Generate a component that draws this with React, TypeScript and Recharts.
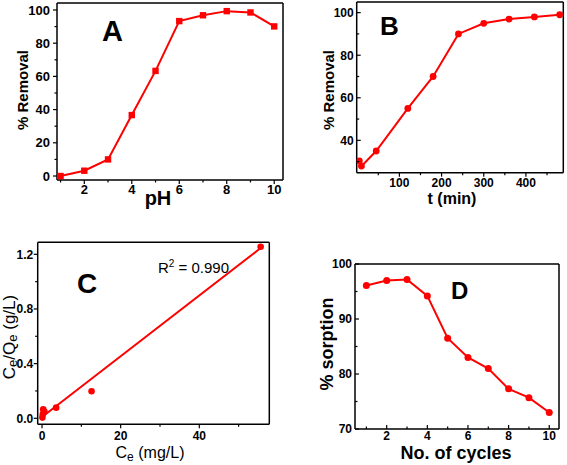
import React from "react";
import { LineChart, ComposedChart, Line, Scatter, XAxis, YAxis } from "recharts";

// panel A: removal vs pH
const PH = [1, 2, 3, 4, 5, 6, 7, 8, 9, 10];
const PH_REMOVAL = [0, 3.2, 10, 36.7, 63.3, 93.3, 96.8, 99.3, 98.5, 90.1];

// panel B: removal vs time
const TIME_MIN = [5, 10, 45, 120, 180, 240, 300, 360, 420, 480];
const TIME_REMOVAL = [30.3, 27.9, 35, 55, 70, 90, 95, 97, 98, 99];

// panel C: isotherm points + linear fit
const CE = [0.1, 0.2, 0.3, 0.6, 3.6, 12.6, 55.6];
const CE_QE = [0.005, 0.03, 0.065, 0.05, 0.078, 0.198, 1.255];
const FIT_CE = [0, 55.7];
const FIT_CE_QE = [0.01, 1.248];

// panel D: reuse cycles
const CYCLES = [1, 2, 3, 4, 5, 6, 7, 8, 9, 10];
const SORPTION = [96.1, 97.0, 97.2, 94.2, 86.5, 83.0, 81.0, 77.3, 75.7, 73.0];

const A_X_MAJOR = [2, 4, 6, 8, 10];
const A_X_MINOR = [1, 3, 5, 7, 9];
const A_Y_MAJOR = [0, 20, 40, 60, 80, 100];
const A_Y_MINOR = [10, 30, 50, 70, 90];
const B_X_MAJOR = [100, 200, 300, 400];
const B_X_MINOR = [50, 150, 250, 350, 450];
const B_Y_MAJOR = [40, 60, 80, 100];
const B_Y_MINOR = [30, 50, 70, 90];
const C_X_MAJOR = [0, 20, 40];
const C_X_MINOR = [10, 30, 50];
const C_Y_MAJOR = [0, 0.4, 0.8, 1.2];
const C_Y_MINOR = [0.2, 0.6, 1.0];
const D_X_MAJOR = [2, 4, 6, 8, 10];
const D_X_MINOR = [1, 3, 5, 7, 9];
const D_Y_MAJOR = [70, 80, 90, 100];
const D_Y_MINOR = [75, 85, 95];

const zip = (xs: number[], ys: number[]) => xs.map((x, i) => ({ x, y: ys[i] }));

const RED = "#ff0000";
const FONT = "'Liberation Sans', Arial, sans-serif";
const FRAME = { stroke: "#000", strokeWidth: 1.5 };
const AXIS_W = 30; // space reserved for left axis
const AXIS_H = 24; // space reserved for bottom axis

const fmtInt = (v: number) => String(v);
const fmtOne = (v: number) => v.toFixed(1);

type TickOpts = { gap: number; size: number; inward?: boolean };

const bottomTick = (majors: number[], fmt: (v: number) => string, o: TickOpts) => (props: any) => {
  const { x, y, payload } = props;
  const major = majors.includes(payload.value);
  const len = (major ? 4 : 2.5) * (o.inward ? -1 : 1);
  return (
    <g>
      <line x1={x} x2={x} y1={y} y2={y + len} stroke="#000" strokeWidth={1.2} />
      {major && (
        <text x={x} y={y + o.gap} dy="0.72em" textAnchor="middle" fontSize={o.size} fontWeight="bold" fontFamily={FONT} fill="#000">
          {fmt(payload.value)}
        </text>
      )}
    </g>
  );
};

const leftTick = (majors: number[], fmt: (v: number) => string, o: TickOpts) => (props: any) => {
  const { x, y, payload } = props;
  const major = majors.includes(payload.value);
  const len = (major ? 4 : 2.5) * (o.inward ? -1 : 1);
  return (
    <g>
      <line x1={x} x2={x - len} y1={y} y2={y} stroke="#000" strokeWidth={1.2} />
      {major && (
        <text x={x - o.gap} y={y} dy="0.36em" textAnchor="end" fontSize={o.size} fontWeight="bold" fontFamily={FONT} fill="#000">
          {fmt(payload.value)}
        </text>
      )}
    </g>
  );
};

const SquareDot = (props: any) => {
  const { cx, cy, index } = props;
  return <rect key={index} x={cx - 3.2} y={cy - 3.2} width={6.4} height={6.4} fill={RED} />;
};

const axes = (
  xd: number[],
  yd: number[],
  xt: number[][],
  yt: number[][],
  yfmt: (v: number) => string,
  xo: TickOpts,
  yo: TickOpts
) => [
  <XAxis key="x" dataKey="x" type="number" domain={xd} allowDataOverflow ticks={[...xt[1], ...xt[0]]} height={AXIS_H} tickSize={0} tickMargin={0} tickLine={false} axisLine={FRAME} tick={bottomTick(xt[0], fmtInt, xo)} interval={0} />,
  <YAxis key="y" dataKey="y" type="number" domain={yd} allowDataOverflow ticks={[...yt[1], ...yt[0]]} width={AXIS_W} tickSize={0} tickMargin={0} tickLine={false} axisLine={FRAME} tick={leftTick(yt[0], yfmt, yo)} interval={0} />,
  <XAxis key="top" xAxisId="top" orientation="top" type="number" domain={xd} allowDataOverflow height={1} tick={false} tickLine={false} axisLine={FRAME} />,
  <YAxis key="right" yAxisId="right" orientation="right" type="number" domain={yd} allowDataOverflow width={1} tick={false} tickLine={false} axisLine={FRAME} />,
];

// margins derived from the plot box inside each panel (left, top, right, bottom edges)
const marginFor = (w: number, h: number, l: number, t: number, r: number, b: number) => ({
  left: l - AXIS_W,
  top: t - 1,
  right: w - r - 1,
  bottom: h - b - AXIS_H,
});

const PanelA = () => {
  const xd = [0.85, 10.37];
  const yd = [-2.4, 104.2];
  return (
    <LineChart width={290} height={215} data={zip(PH, PH_REMOVAL)} margin={marginFor(290, 215, 57, 3, 283, 180)}>
      {axes(xd, yd, [A_X_MAJOR, A_X_MINOR], [A_Y_MAJOR, A_Y_MINOR], fmtInt, { gap: 5, size: 13 }, { gap: 7, size: 13 })}
      <Line dataKey="y" stroke={RED} strokeWidth={2} dot={SquareDot} isAnimationActive={false} />
    </LineChart>
  );
};

const PanelB = () => {
  const xd = [-1.2, 488.6];
  const yd = [24.8, 105];
  return (
    <LineChart width={277} height={215} data={zip(TIME_MIN, TIME_REMOVAL)} margin={marginFor(277, 215, 66.7, 2, 273.3, 172.7)}>
      {axes(xd, yd, [B_X_MAJOR, B_X_MINOR], [B_Y_MAJOR, B_Y_MINOR], fmtInt, { gap: 6, size: 12 }, { gap: 3, size: 12, inward: true })}
      <Line dataKey="y" stroke={RED} strokeWidth={2} dot={{ r: 3.4, fill: RED, stroke: RED, strokeWidth: 0 }} isAnimationActive={false} />
    </LineChart>
  );
};

const PanelC = () => {
  const xd = [-1.1, 57.8];
  const yd = [-0.044, 1.288];
  return (
    <ComposedChart width={290} height={235} margin={marginFor(290, 235, 37.7, 12.3, 269.3, 194.3)}>
      {axes(xd, yd, [C_X_MAJOR, C_X_MINOR], [C_Y_MAJOR, C_Y_MINOR], fmtOne, { gap: 7, size: 12 }, { gap: 4.5, size: 12 })}
      <Line data={zip(FIT_CE, FIT_CE_QE)} dataKey="y" stroke={RED} strokeWidth={2} dot={false} isAnimationActive={false} />
      <Scatter data={zip(CE, CE_QE)} dataKey="y" fill={RED} shape={(p: any) => <circle cx={p.cx} cy={p.cy} r={3.3} fill={RED} />} isAnimationActive={false} />
    </ComposedChart>
  );
};

const PanelD = () => {
  const xd = [0.44, 10.48];
  const yd = [70, 100];
  return (
    <LineChart width={277} height={235} data={zip(CYCLES, SORPTION)} margin={marginFor(277, 235, 65, 34, 269, 199)}>
      {axes(xd, yd, [D_X_MAJOR, D_X_MINOR], [D_Y_MAJOR, D_Y_MINOR], fmtInt, { gap: 2, size: 12, inward: true }, { gap: 3, size: 12, inward: true })}
      <Line dataKey="y" stroke={RED} strokeWidth={2} dot={{ r: 3.5, fill: RED, stroke: RED, strokeWidth: 0 }} isAnimationActive={false} />
    </LineChart>
  );
};

const Titles = () => (
  <svg width={567} height={465} style={{ position: "absolute", left: 0, top: 0, pointerEvents: "none" }} fontFamily={FONT} fill="#000">
    {/* A */}
    <text x={102} y={41} fontSize={29} fontWeight="bold">A</text>
    <text transform="translate(28,90) rotate(-90)" textAnchor="middle" fontSize={15} fontWeight="bold">% Removal</text>
    <text x={158} y={205} textAnchor="middle" fontSize={20} fontWeight="bold">pH</text>
    {/* B */}
    <text x={380} y={35} fontSize={26} fontWeight="bold">B</text>
    <text transform="translate(334,90) rotate(-90)" textAnchor="middle" fontSize={15} fontWeight="bold">% Removal</text>
    <text x={452} y={204} textAnchor="middle" fontSize={16} fontWeight="bold">t (min)</text>
    {/* C */}
    <text x={77} y={293} fontSize={28} fontWeight="bold">C</text>
    <text x={158} y={273} fontSize={15}>
      R<tspan fontSize={10} dy={-6}>2</tspan>
      <tspan dy={6}> = 0.990</tspan>
    </text>
    <text transform="translate(15,337) rotate(-90)" textAnchor="middle" fontSize={17}>
      C<tspan fontSize={13} dy={2}>e</tspan>
      <tspan dy={-2}>/Q</tspan>
      <tspan fontSize={13} dy={2}>e</tspan>
      <tspan dy={-2}> (g/L)</tspan>
    </text>
    <text x={150} y={458} textAnchor="middle" fontSize={16}>
      C<tspan fontSize={12} dy={3}>e</tspan>
      <tspan dy={-3}> (mg/L)</tspan>
    </text>
    {/* D */}
    <text x={451} y={299} fontSize={24} fontWeight="bold">D</text>
    <text transform="translate(333,344) rotate(-90)" textAnchor="middle" fontSize={18} fontWeight="bold">% sorption</text>
    <text x={456} y={459} textAnchor="middle" fontSize={18} fontWeight="bold">No. of cycles</text>
  </svg>
);

export default function App() {
  return (
    <div style={{ position: "absolute", left: 0, top: 0, width: 567, height: 465, background: "#fff", fontFamily: FONT }}>
      <div style={{ position: "absolute", left: 0, top: 0 }}>
        <PanelA />
      </div>
      <div style={{ position: "absolute", left: 290, top: 0 }}>
        <PanelB />
      </div>
      <div style={{ position: "absolute", left: 0, top: 230 }}>
        <PanelC />
      </div>
      <div style={{ position: "absolute", left: 290, top: 230 }}>
        <PanelD />
      </div>
      <Titles />
    </div>
  );
}
